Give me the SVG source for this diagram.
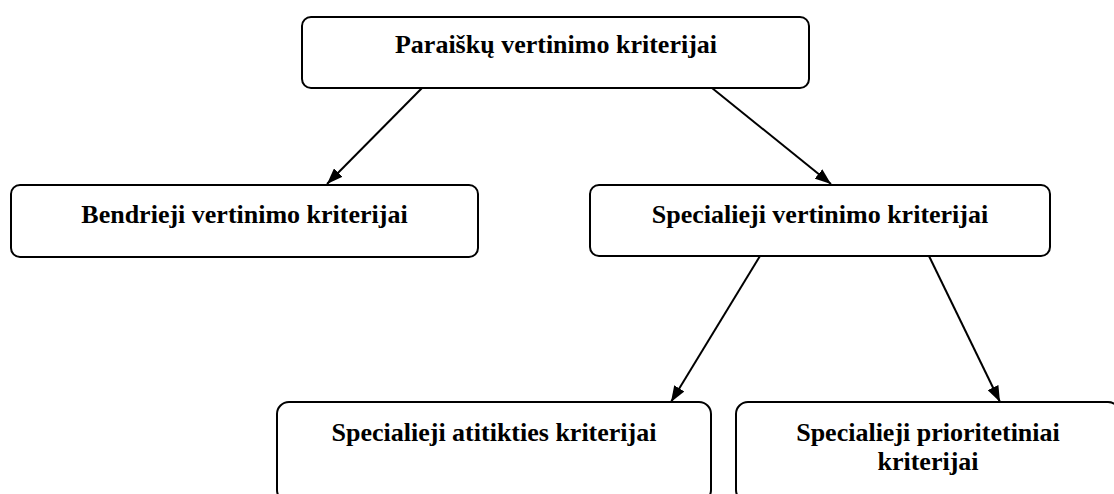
<svg xmlns="http://www.w3.org/2000/svg" width="1114" height="494" viewBox="0 0 1114 494">
<style>
.box{fill:#fff;stroke:#000;stroke-width:2}
.lbl{font-family:"Liberation Serif","Times New Roman",serif;font-weight:bold;font-size:26px;fill:#000;text-anchor:middle}
.edge{stroke:#000;stroke-width:2;fill:none;marker-end:url(#arr)}
</style>
<defs>
<marker id="arr" viewBox="0 0 16 12" refX="16" refY="6" markerUnits="userSpaceOnUse" markerWidth="16" markerHeight="12" orient="auto">
<path d="M0,0 L16,6 L0,12 z" fill="#000"/>
</marker>
</defs>
<rect width="1114" height="494" fill="#fff"/>
<g id="edges">
<line class="edge" x1="422" y1="88" x2="327" y2="184"/>
<line class="edge" x1="712" y1="88" x2="831" y2="184"/>
<line class="edge" x1="760" y1="256" x2="671" y2="402"/>
<line class="edge" x1="929" y1="256" x2="1000" y2="402"/>
</g>
<g id="n-root">
<rect class="box" x="302" y="17" width="507" height="71" rx="9"/>
<text class="lbl" x="556" y="53">Paraiškų vertinimo kriterijai</text>
</g>
<g id="n-bendrieji">
<rect class="box" x="11" y="185" width="467" height="72" rx="9"/>
<text class="lbl" x="244.5" y="223">Bendrieji vertinimo kriterijai</text>
</g>
<g id="n-specialieji">
<rect class="box" x="590" y="185" width="460" height="71" rx="9"/>
<text class="lbl" x="820" y="223">Specialieji vertinimo kriterijai</text>
</g>
<g id="n-atitikties">
<rect class="box" x="277" y="402" width="434" height="100" rx="12"/>
<text class="lbl" x="494" y="441">Specialieji atitikties kriterijai</text>
</g>
<g id="n-prioritetiniai">
<rect class="box" x="736" y="402" width="384" height="100" rx="12"/>
<text class="lbl" x="928" y="441">Specialieji prioritetiniai</text>
<text class="lbl" x="928" y="470">kriterijai</text>
</g>
</svg>
